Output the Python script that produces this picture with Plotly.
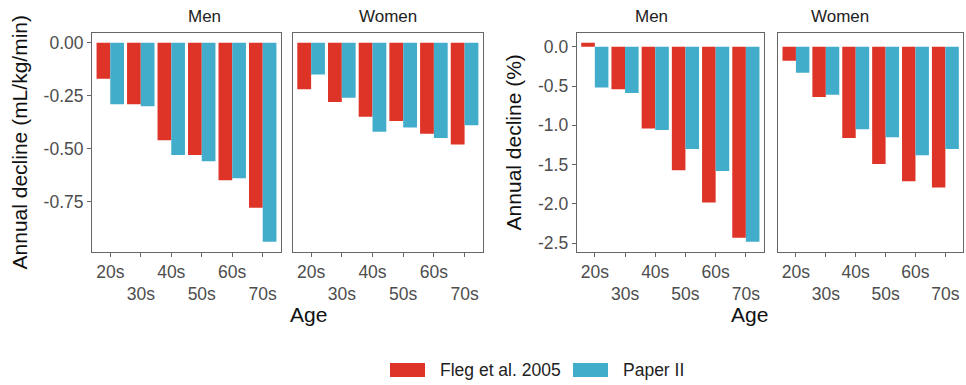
import plotly.graph_objects as go

ages = ["20s", "30s", "40s", "50s", "60s", "70s"]
tick_text = ["20s", "<br>30s", "40s", "<br>50s", "60s", "<br>70s"]
series_names = ["Fleg et al. 2005", "Paper II"]
colors = ["#DE3427", "#42ADCB"]

abs_men_fleg = [-0.17, -0.29, -0.46, -0.53, -0.65, -0.78]
abs_men_paper = [-0.29, -0.30, -0.53, -0.56, -0.64, -0.94]
abs_women_fleg = [-0.22, -0.28, -0.35, -0.37, -0.43, -0.48]
abs_women_paper = [-0.15, -0.26, -0.42, -0.40, -0.45, -0.39]

pct_men_fleg = [0.05, -0.54, -1.04, -1.57, -1.98, -2.43]
pct_men_paper = [-0.52, -0.59, -1.06, -1.30, -1.58, -2.48]
pct_women_fleg = [-0.18, -0.64, -1.16, -1.49, -1.71, -1.79]
pct_women_paper = [-0.33, -0.61, -1.05, -1.15, -1.38, -1.30]

abs_ticks = [0, -0.25, -0.5, -0.75]
abs_ticktext = ["0.00", "-0.25", "-0.50", "-0.75"]
pct_ticks = [0, -0.5, -1.0, -1.5, -2.0, -2.5]
pct_ticktext = ["0.0", "-0.5", "-1.0", "-1.5", "-2.0", "-2.5"]

W, H = 966, 385
FONT = "Liberation Sans"
GREY_TXT = "#4d4d4d"
LINE = "#666666"


def yrange(*arrs):
    vals = [v for a in arrs for v in a] + [0]
    lo, hi = min(vals), max(vals)
    pad = (hi - lo) * 0.05
    return [lo - pad, hi + pad]


fig = go.Figure()

panels = [
    ("x", "y", abs_men_fleg, abs_men_paper),
    ("x2", "y2", abs_women_fleg, abs_women_paper),
    ("x3", "y3", pct_men_fleg, pct_men_paper),
    ("x4", "y4", pct_women_fleg, pct_women_paper),
]
for xa, ya, f, p in panels:
    for name, vals, c in zip(series_names, [f, p], colors):
        fig.add_trace(go.Bar(x=ages, y=vals, name=name, marker_color=c,
                             marker_line_width=0, xaxis=xa, yaxis=ya,
                             showlegend=False, hoverinfo="skip"))

px = lambda v: v / W
py = lambda v: 1 - v / H

ydom = [py(253), py(33)]
xdoms = [[px(92), px(281)], [px(292.7), px(483)],
         [px(576.7), px(764)], [px(778), px(963.3)]]

axis_common = dict(showline=True, mirror=True, linecolor=LINE, linewidth=1,
                   ticks="outside", ticklen=4, tickcolor=LINE, showgrid=False,
                   zeroline=False, tickangle=0,
                   tickfont=dict(family=FONT, size=17.5, color=GREY_TXT))

r_abs = yrange(abs_men_fleg, abs_men_paper, abs_women_fleg, abs_women_paper)
r_pct = yrange(pct_men_fleg, pct_men_paper, pct_women_fleg, pct_women_paper)

layout = dict(width=W, height=H, margin=dict(l=0, r=0, t=0, b=0),
              plot_bgcolor="white", paper_bgcolor="white",
              barmode="group", bargap=0.1, bargroupgap=0,
              font=dict(family=FONT, color="#222"), showlegend=False)

for i, (xa, ya, _, _) in enumerate(panels):
    xkey = "xaxis" if i == 0 else f"xaxis{i+1}"
    ykey = "yaxis" if i == 0 else f"yaxis{i+1}"
    layout[xkey] = dict(axis_common, domain=xdoms[i], anchor=ya,
                        type="category", categoryorder="array", categoryarray=ages,
                        tickvals=ages, ticktext=tick_text, range=[-0.6, 5.6])
    if i < 2:
        yd = dict(range=r_abs, tickvals=abs_ticks, ticktext=abs_ticktext)
    else:
        yd = dict(range=r_pct, tickvals=pct_ticks, ticktext=pct_ticktext)
    layout[ykey] = dict(axis_common, domain=ydom, anchor=xa, **yd)
    if i in (1, 3):
        layout[ykey]["showticklabels"] = False
        layout[ykey]["ticks"] = ""
    else:
        layout[ykey]["title"] = dict(
            text="Annual decline (mL/kg/min)" if i == 0 else "Annual decline (%)",
            font=dict(family=FONT, size=21, color="#111"), standoff=10)

fig.update_layout(**layout)

annotations = []
for i, lab in enumerate(["Men", "Women", "Men", "Women"]):
    annotations.append(dict(text=lab, x=sum(xdoms[i]) / 2, y=ydom[1], xref="paper",
                            yref="paper", yanchor="bottom", yshift=5, showarrow=False,
                            font=dict(family=FONT, size=17, color="#222")))
for xs in [(xdoms[0][0], xdoms[1][1]), (xdoms[2][0], xdoms[3][1])]:
    annotations.append(dict(text="Age", x=sum(xs) / 2, y=py(316), xref="paper",
                            yref="paper", yanchor="middle", showarrow=False,
                            font=dict(family=FONT, size=21, color="#111")))

# legend
shapes = []
leg = [(390, 438, series_names[0], colors[0]), (573, 621, series_names[1], colors[1])]
for x0, tx, name, c in leg:
    shapes.append(dict(type="rect", xref="paper", yref="paper", x0=px(x0), x1=px(x0 + 35),
                       y0=py(379), y1=py(365), fillcolor=c, line_width=0))
    annotations.append(dict(text=name, x=px(tx), y=py(372), xref="paper", yref="paper",
                            xanchor="left", yanchor="middle", showarrow=False,
                            font=dict(family=FONT, size=17.5, color="#222")))

fig.update_layout(annotations=annotations, shapes=shapes)
fig.write_html("out.html", config={"displayModeBar": False},
               post_script="document.body.style.margin='0';document.body.style.overflow='hidden';")
